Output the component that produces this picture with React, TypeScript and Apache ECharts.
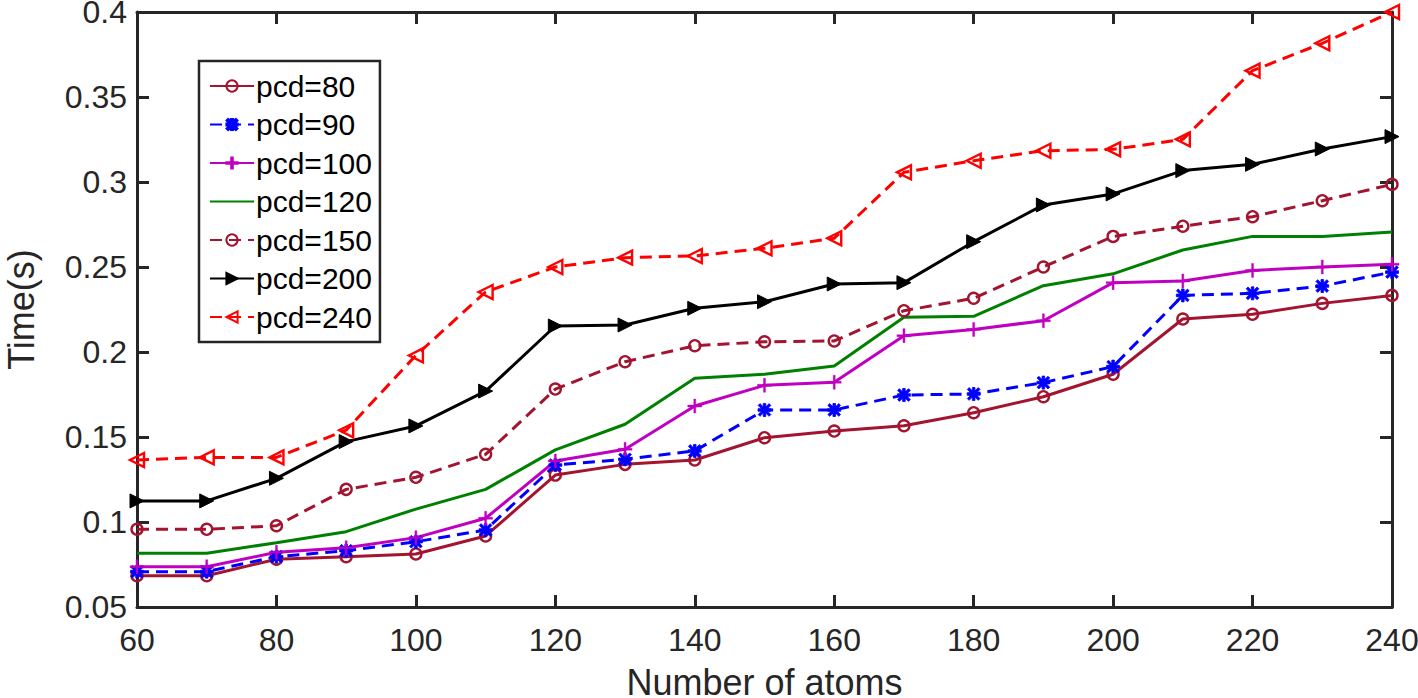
import React, { useEffect, useRef } from "react";
import * as echarts from "echarts";

const atoms = [60, 70, 80, 90, 100, 110, 120, 130, 140, 150, 160, 170, 180, 190, 200, 210, 220, 230, 240];
const seriesNames = ["pcd=80", "pcd=90", "pcd=100", "pcd=120", "pcd=150", "pcd=200", "pcd=240"];
const pcd80 = [0.0684, 0.0684, 0.0781, 0.0796, 0.0812, 0.0918, 0.1276, 0.1339, 0.1365, 0.1496, 0.1535, 0.1566, 0.1643, 0.1737, 0.1869, 0.2194, 0.2222, 0.2286, 0.2333];
const pcd90 = [0.0708, 0.0708, 0.0796, 0.0831, 0.0884, 0.0953, 0.1335, 0.1369, 0.1418, 0.1659, 0.1659, 0.1747, 0.1753, 0.182, 0.1914, 0.2333, 0.2345, 0.2388, 0.247];
const pcd100 = [0.0737, 0.0737, 0.0822, 0.0849, 0.0908, 0.1022, 0.1359, 0.1428, 0.1682, 0.1804, 0.1822, 0.2096, 0.2133, 0.2184, 0.2408, 0.2418, 0.248, 0.25, 0.2516];
const pcd120 = [0.0816, 0.0816, 0.0878, 0.0943, 0.1076, 0.1192, 0.1424, 0.1575, 0.1845, 0.1869, 0.1918, 0.2204, 0.221, 0.239, 0.246, 0.26, 0.268, 0.268, 0.2706];
const pcd150 = [0.0957, 0.0957, 0.0978, 0.1192, 0.1263, 0.1398, 0.1782, 0.1943, 0.2037, 0.206, 0.2065, 0.2243, 0.2316, 0.25, 0.268, 0.274, 0.2796, 0.289, 0.2986];
const pcd200 = [0.1124, 0.1124, 0.1257, 0.1473, 0.1565, 0.177, 0.2153, 0.2159, 0.2257, 0.2296, 0.24, 0.2408, 0.2649, 0.2865, 0.293, 0.3067, 0.3104, 0.3194, 0.3267];
const pcd240 = [0.1365, 0.138, 0.138, 0.154, 0.198, 0.2353, 0.25, 0.2555, 0.2565, 0.261, 0.2669, 0.3057, 0.3125, 0.3184, 0.3192, 0.3251, 0.3655, 0.3816, 0.4];
const xTicks = [60, 80, 100, 120, 140, 160, 180, 200, 220, 240];
const yTicks = [0.05, 0.1, 0.15, 0.2, 0.25, 0.3, 0.35, 0.4];

const FONT = "'Liberation Sans', Arial, Helvetica, sans-serif";
const AXIS = "#262626";

const SYM_RIGHT = "path://M0,0L10,5L0,10Z";
const SYM_LEFT = "path://M10,0L0,5L10,10Z";
const SYM_PLUS = "path://M4.3,0H5.7V4.3H10V5.7H5.7V10H4.3V5.7H0V4.3H4.3Z";
const SYM_STAR =
  "path://M0,4H10V6H0Z M4,0H6V10H4Z M1.5,0.1L9.9,8.5L8.5,9.9L0.1,1.5Z M8.5,0.1L9.9,1.5L1.5,9.9L0.1,8.5Z";

function pairs(vals: number[]) {
  return atoms.map((a, i) => [a, vals[i]]);
}

export default function App() {
  const ref = useRef<HTMLDivElement>(null);
  useEffect(() => {
    if (!ref.current) return;
    const chart = echarts.init(ref.current, undefined, { renderer: "svg" });
    const dash = [12, 7];
    const mk = (
      name: string,
      vals: number[],
      color: string,
      type: any,
      symbol: string,
      size: number,
      fill: string,
      border: string,
      bw: number
    ) => ({
      name,
      type: "line",
      data: pairs(vals),
      xAxisIndex: 0,
      yAxisIndex: 0,
      symbol,
      symbolSize: size,
      showSymbol: true,
      color,
      lineStyle: { color, width: 3, type },
      itemStyle: { color: fill, borderColor: border, borderWidth: bw },
      emphasis: { disabled: true },
      z: 3,
    });
    const yFmt = (v: number) => String(+v.toFixed(2));
    const clear = "rgba(255,255,255,0)";
    const option: any = {
      animation: false,
      backgroundColor: "#fff",
      textStyle: { fontFamily: FONT },
      grid: { left: 137, right: 26, top: 12, bottom: 91, containLabel: false, outerBoundsMode: "none" },
      legend: {
        orient: "vertical",
        left: 199,
        top: 61,
        padding: [10, 8, 10, 10],
        itemWidth: 44,
        itemHeight: 14,
        itemGap: 8.5,
        backgroundColor: "#fff",
        borderColor: AXIS,
        borderWidth: 2.5,
        borderRadius: 0,
        data: seriesNames,
        textStyle: { fontFamily: FONT, fontSize: 30, color: "#000", lineHeight: 30, padding: [0, 0, 0, -3] },
      },
      xAxis: [
        {
          type: "value",
          position: "bottom",
          min: 60,
          max: 240,
          interval: 20,
          name: "Number of atoms",
          nameLocation: "middle",
          nameGap: 62,
          nameTextStyle: { fontFamily: FONT, fontSize: 36, color: AXIS, lineHeight: 26 },
          axisLine: { show: true, lineStyle: { color: AXIS, width: 3 } },
          axisTick: { show: true, inside: true, length: 12, lineStyle: { color: AXIS, width: 3 } },
          axisLabel: { fontFamily: FONT, fontSize: 32, color: AXIS, margin: 17, formatter: (v: number) => (xTicks.includes(v) ? String(v) : "") },
          splitLine: { show: false },
        },
        {
          type: "value",
          position: "top",
          min: 60,
          max: 240,
          interval: 20,
          axisLine: { show: true, onZero: false, lineStyle: { color: AXIS, width: 3 } },
          axisTick: { show: true, inside: true, length: 12, lineStyle: { color: AXIS, width: 3 } },
          axisLabel: { show: false },
          splitLine: { show: false },
        },
      ],
      yAxis: [
        {
          type: "value",
          position: "left",
          min: 0.05,
          max: 0.4,
          interval: 0.05,
          name: "Time(s)",
          nameLocation: "middle",
          nameGap: 98,
          nameTextStyle: { fontFamily: FONT, fontSize: 36, color: AXIS },
          axisLine: { show: true, onZero: false, lineStyle: { color: AXIS, width: 3 } },
          axisTick: { show: true, inside: true, length: 12, lineStyle: { color: AXIS, width: 3 } },
          axisLabel: {
            fontFamily: FONT,
            fontSize: 32,
            lineHeight: 24,
            color: AXIS,
            margin: 10,
            formatter: (v: number) => (yTicks.some((t) => Math.abs(t - v) < 1e-9) ? yFmt(v) : ""),
          },
          splitLine: { show: false },
        },
        {
          type: "value",
          position: "right",
          min: 0.05,
          max: 0.4,
          interval: 0.05,
          axisLine: { show: true, onZero: false, lineStyle: { color: AXIS, width: 3 } },
          axisTick: { show: true, inside: true, length: 12, lineStyle: { color: AXIS, width: 3 } },
          axisLabel: { show: false },
          splitLine: { show: false },
        },
      ],
      series: [
        mk(seriesNames[0], pcd80, "#A2142F", "solid", "circle", 11, clear, "#A2142F", 2.4),
        mk(seriesNames[1], pcd90, "#0000FF", dash, SYM_STAR, 13, "#0000FF", "#0000FF", 0.8),
        mk(seriesNames[2], pcd100, "#C000C0", "solid", SYM_PLUS, 14, "#C000C0", "#C000C0", 0.4),
        mk(seriesNames[3], pcd120, "#008000", "solid", "circle", 1, clear, clear, 0),
        mk(seriesNames[4], pcd150, "#A2142F", dash, "circle", 11, clear, "#A2142F", 2.4),
        mk(seriesNames[5], pcd200, "#000000", "solid", SYM_RIGHT, 14, "#000000", "#000000", 1),
        mk(seriesNames[6], pcd240, "#FF0000", dash, SYM_LEFT, 14, clear, "#FF0000", 2.4),
      ],
    };
    chart.setOption(option);
    return () => chart.dispose();
  }, []);
  return <div ref={ref} style={{ width: 1418, height: 698, position: "absolute", left: 0, top: 0, background: "#fff" }} />;
}
